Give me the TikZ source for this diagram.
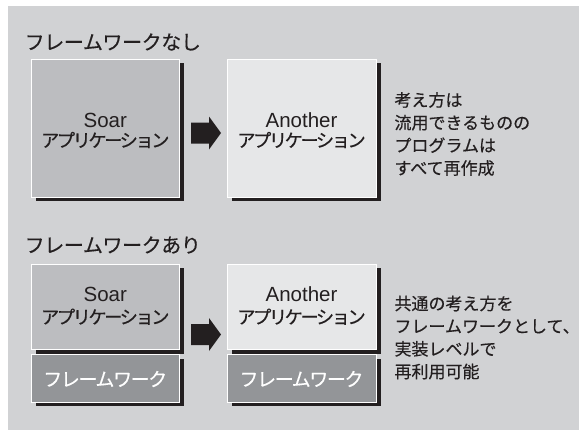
\documentclass[tikz,border=0pt]{standalone}
\usepackage{fontspec}
\setmainfont{Noto Sans CJK JP}[FakeBold=0.35]
\newfontfamily\latf{Liberation Sans}
\definecolor{bg}{HTML}{D1D2D4}
\definecolor{soarfill}{HTML}{BCBDC0}
\definecolor{anofill}{HTML}{E6E7E8}
\definecolor{fwfill}{HTML}{939598}
\definecolor{ink}{HTML}{231F20}
\begin{document}
\begin{tikzpicture}[x=1pt,y=-1pt,
  shadowbar/.style={fill=ink},
  appbox/.style={draw=white, line width=0.9pt},
  lattext/.style={text=ink, inner sep=0pt, anchor=base, font=\latf\fontsize{20.5}{22}\selectfont},
  kanatext/.style={text=ink, inner sep=0pt, font=\fontsize{18.3}{20}\selectfont\addfontfeature{LetterSpace=-13.7}},
  fwtext/.style={text=white, inner sep=0pt, font=\fontsize{19}{21}\selectfont\addfontfeature{LetterSpace=-7.4}},
  titletext/.style={text=ink, inner sep=0pt, anchor=west, font=\fontsize{20}{22}\selectfont\addfontfeature{LetterSpace=-2}},
  notetext/.style={text=ink, inner sep=0pt, anchor=west, align=left, font=\fontsize{17}{22.7}\selectfont},
  blockarrow/.style={fill=ink}]
\useasboundingbox (0,0) rectangle (579,431);
\fill[bg] (7.5,6) rectangle (579,430);

% titles
\node[titletext] (t1) at (24.5,42) {フレームワークなし};
\node[titletext] (t2) at (24.5,245) {フレームワークあり};

% shadows (top)
\fill[shadowbar] (36,63) rectangle (183.5,201);
\fill[shadowbar] (231.5,63) rectangle (380.5,201);
% boxes (top)
\filldraw[appbox, fill=soarfill] (31.5,59) rectangle (179,197);
\filldraw[appbox, fill=anofill] (227,59) rectangle (376,197);

% shadows (bottom)
\fill[shadowbar] (36,268) rectangle (183.5,353.5);
\fill[shadowbar] (231.5,268) rectangle (380.5,353.5);
\fill[shadowbar] (36,358.5) rectangle (183.5,406);
\fill[shadowbar] (231.5,358.5) rectangle (380.5,406);
% boxes (bottom)
\filldraw[appbox, fill=soarfill] (31.5,264) rectangle (179,349.5);
\filldraw[appbox, fill=anofill] (227,264) rectangle (376,349.5);
\filldraw[appbox, fill=fwfill] (31.5,354.5) rectangle (179,402);
\filldraw[appbox, fill=fwfill] (227,354.5) rectangle (376,402);

% box texts (top)
\node[lattext] (s1a) at (105.25,127.5) {Soar};
\node[kanatext] (s1b) at (105.25,140) {アプリケーション};
\node[lattext] (a1a) at (301.5,127.5) {Another};
\node[kanatext] (a1b) at (301.5,140) {アプリケーション};

% box texts (bottom)
\node[lattext] (s2a) at (105.25,301.5) {Soar};
\node[kanatext] (s2b) at (105.25,316.7) {アプリケーション};
\node[lattext] (a2a) at (301.5,301.5) {Another};
\node[kanatext] (a2b) at (301.5,316.7) {アプリケーション};
\node[fwtext] (f2s) at (105.25,379) {フレームワーク};
\node[fwtext] (f2a) at (301.5,379) {フレームワーク};

% block arrows
\fill[blockarrow] (191,122.5) -- (209,122.5) -- (209,116.5) -- (221,133) -- (209,149.5) -- (209,143.5) -- (191,143.5) -- cycle;
\fill[blockarrow] (191,324) -- (209,324) -- (209,318) -- (221,334.5) -- (209,351) -- (209,345) -- (191,345) -- cycle;

% notes
\node[notetext] (n1) at (394.3,134) {考え方は\\流用できるものの\\プログラムは\\すべて再作成};
\node[notetext] (n2) at (394.3,337.5) {共通の考え方を\\フレームワークとして、\\実装レベルで\\再利用可能};
\end{tikzpicture}
\end{document}
